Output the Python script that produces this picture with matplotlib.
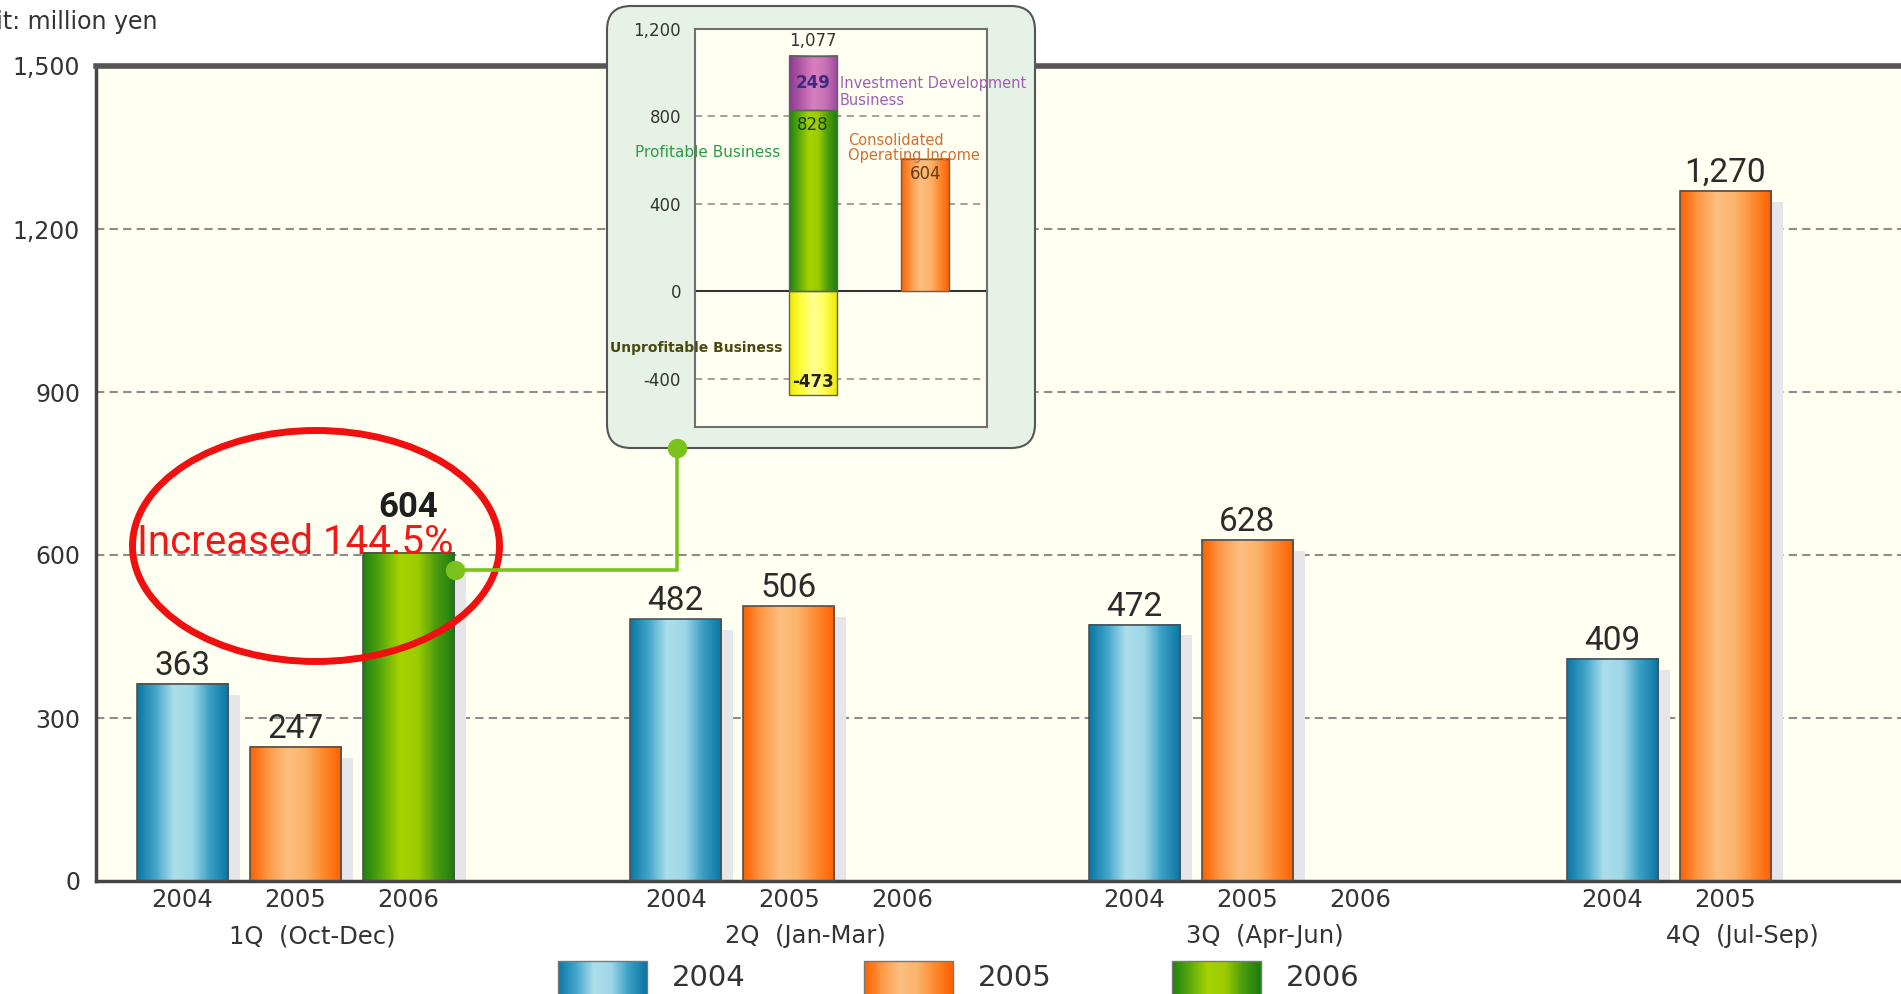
import matplotlib
matplotlib.use('Agg')
import matplotlib.pyplot as plt
import numpy as np
from matplotlib.colors import LinearSegmentedColormap
from matplotlib.patches import Ellipse, FancyBboxPatch
from matplotlib.transforms import blended_transform_factory
from matplotlib import font_manager

# ---- data ----
quarters = ['1Q  (Oct-Dec)', '2Q  (Jan-Mar)', '3Q  (Apr-Jun)', '4Q  (Jul-Sep)']
years = ['2004', '2005', '2006']
income_2004 = [363, 482, 472, 409]
income_2005 = [247, 506, 628, 1270]
income_2006 = [604, None, None, None]
year_ticks = [['2004', '2005', '2006'], ['2004', '2005', '2006'],
              ['2004', '2005', '2006'], ['2004', '2005']]
y_ticks = [0, 300, 600, 900, 1200, 1500]

# breakdown of 1Q 2006 (inset)
profitable = 828
investment_dev = 249
unprofitable = -473
consolidated = 604
breakdown_total = 1077
inset_ticks = [-400, 0, 400, 800, 1200]
increase_text = 'Increased 144.5%'

# ---- layout ----
group_start = [0.765, 5.13, 9.19, 13.42]
bar_w = 0.81

grad = {
    '2004': ['#0b78a6', '#45a6cb', '#acdeeb', '#9fd7e7', '#3a9fc4', '#0a76a3'],
    '2005': ['#ff6200', '#fe9a48', '#fdbf80', '#fbb46c', '#fe8a30', '#ff6000'],
    '2006': ['#208210', '#5caa0c', '#a6d200', '#9ccc00', '#4c9c10', '#1c7e0e'],
    'purple': ['#8a3a90', '#b45aa8', '#d880c0', '#c872b4', '#9a48a0'],
    'yellow': ['#eeea00', '#ffff40', '#ffff96', '#ffff50', '#ebe600'],
}

names = {f.name for f in font_manager.fontManager.ttflist}
narrow = 'Liberation Sans Narrow' if 'Liberation Sans Narrow' in names else 'DejaVu Sans'

plt.rcParams['font.family'] = 'DejaVu Sans'


def paint(ax, bars, colors, z):
    cmap = LinearSegmentedColormap.from_list('g', colors)
    for b in bars:
        x0, y0, w, h = b.get_x(), b.get_y(), b.get_width(), b.get_height()
        ax.imshow(np.linspace(0, 1, 64).reshape(1, -1), cmap=cmap,
                  extent=(x0, x0 + w, y0, y0 + h), aspect='auto',
                  interpolation='bilinear', zorder=z)


fig = plt.figure(figsize=(19.01, 9.94), dpi=100)
ax = fig.add_axes([96 / 1901, 1 - 881 / 994, 1 - 96 / 1901, (881 - 66) / 994])
ax.set_facecolor('#fffff2')

series = [income_2004, income_2005, income_2006]
for i, (yr, vals) in enumerate(zip(years, series)):
    xs = [group_start[q] + i for q in range(4) if vals[q] is not None]
    vs = [v for v in vals if v is not None]
    ax.bar([x + 0.1 for x in xs], [v - 20 for v in vs], width=bar_w,
           color='#e6e6ea', zorder=1)
    bars = ax.bar(xs, vs, width=bar_w, facecolor='none',
                  edgecolor='#505050', linewidth=1.2, zorder=3)
    paint(ax, bars, grad[yr], 2)
    for x, v in zip(xs, vs):
        if yr == '2006':
            ax.annotate(f'{v:,}', (x, v), xytext=(0, 26), textcoords='offset points',
                        ha='center', va='baseline', fontsize=25, fontweight='bold',
                        family='Roboto', color='#1e1e1e', zorder=6)
        else:
            ax.annotate(f'{v:,}', (x, v), xytext=(0, 6.5), textcoords='offset points',
                        ha='center', va='baseline', fontsize=24, family='Roboto',
                        color='#2b2b2b', zorder=6)

tick_pos, tick_lab = [], []
for q in range(4):
    for i, lab in enumerate(year_ticks[q]):
        tick_pos.append(group_start[q] + i)
        tick_lab.append(lab)
ax.set_xticks(tick_pos)
ax.set_xticklabels(tick_lab, fontsize=17.5, color='#333333')
ax.set_yticks(y_ticks)
ax.set_yticklabels([f'{v:,}' for v in y_ticks], fontsize=17, color='#333333')
ax.tick_params(length=0)
ax.tick_params(axis='x', pad=5)
ax.tick_params(axis='y', pad=11.5)

trans = blended_transform_factory(ax.transData, ax.transAxes)
for q, name in enumerate(quarters):
    ax.text(group_start[q] + 1.15, -0.0675, name, transform=trans, ha='center',
            va='center', fontsize=17.5, color='#333333')

for v in y_ticks[1:-1]:
    ax.axhline(v, color='#8c8c8c', linewidth=1.5, linestyle=(0, (4, 2.5)), zorder=0.5)

ax.spines['right'].set_visible(False)
ax.spines['top'].set_linewidth(4)
ax.spines['top'].set_color('#555555')
for s in ['left', 'bottom']:
    ax.spines[s].set_linewidth(2.5)
    ax.spines[s].set_color('#444444')
ax.set_xlim(0, 1805 / 113)
ax.set_ylim(0, 1500)

# ---- overlay in figure pixels ----
ov = fig.add_axes([0, 0, 1, 1], zorder=5)
ov.set_facecolor('none')
ov.axis('off')

ov.text(157, 22, 'Unit: million yen', ha='right', va='center', fontsize=17,
        color='#333333')

ov.add_patch(Ellipse((316, 546), 367, 231, fill=False, edgecolor='#f01010',
                     linewidth=5, zorder=3))
ov.text(137, 542, increase_text, ha='left', va='center', fontsize=29,
        family='Roboto', color='#f01818', zorder=4)

ov.plot([455, 677, 677], [570, 570, 448], color='#7cc21c', linewidth=2.6, zorder=5)
ov.plot([455, 677], [570, 448], 'o', color='#7cc21c', markersize=13, zorder=7)

ov.add_patch(FancyBboxPatch((607, 6), 428, 442,
                            boxstyle='round,pad=0,rounding_size=24',
                            facecolor='#e7f2e6', edgecolor='#555555',
                            linewidth=1.5, zorder=6))

# legend
leg_x = [558, 864, 1172]
for yr, lx in zip(years, leg_x):
    cmap = LinearSegmentedColormap.from_list('l', grad[yr])
    ov.imshow(np.linspace(0, 1, 64).reshape(1, -1), cmap=cmap,
              extent=(lx, lx + 89, 998, 961), aspect='auto',
              interpolation='bilinear', zorder=2)
    ov.plot([lx, lx + 89, lx + 89, lx, lx], [998, 998, 961, 961, 998],
            color='#777777', linewidth=1, zorder=2.5)
    ov.text(lx + 114, 978, yr, ha='left', va='center',
            fontsize=27 if narrow != 'DejaVu Sans' else 21,
            family=narrow, color='#333333')

ov.set_xlim(0, 1901)
ov.set_ylim(994, 0)

# ---- inset: breakdown of consolidated operating income ----
ins = fig.add_axes([695 / 1901, 1 - 427 / 994, 292 / 1901, 398 / 994], zorder=10)
ins.set_facecolor('#fffff2')
for s in ins.spines.values():
    s.set_color('#707070')
    s.set_linewidth(1.5)

x_break, x_cons = 1.05, 2.05
w_in = 0.43
b1 = ins.bar([x_break], [profitable], width=w_in, facecolor='none',
             edgecolor='#606060', linewidth=1, zorder=3)
paint(ins, b1, grad['2006'], 2)
b2 = ins.bar([x_break], [investment_dev], bottom=[profitable], width=w_in,
             facecolor='none', edgecolor='#606060', linewidth=1, zorder=3)
paint(ins, b2, grad['purple'], 2)
b3 = ins.bar([x_break], [unprofitable], width=w_in, facecolor='none',
             edgecolor='#606060', linewidth=1, zorder=3)
paint(ins, b3, grad['yellow'], 2)
b4 = ins.bar([x_cons], [consolidated], width=w_in, facecolor='none',
             edgecolor='#606060', linewidth=1, zorder=3)
paint(ins, b4, grad['2005'], 2)

for v in inset_ticks:
    if v == 0:
        ins.axhline(0, color='#333333', linewidth=1.5, zorder=1.5)
    elif v != inset_ticks[-1]:
        ins.axhline(v, color='#9a9a9a', linewidth=1.3, linestyle=(0, (4, 3)), zorder=1)

ins.set_yticks(inset_ticks)
ins.set_yticklabels([f'{v:,}' for v in inset_ticks], fontsize=12, color='#333333')
ins.set_xticks([])
ins.tick_params(length=0, pad=10)

ins.annotate(f'{breakdown_total:,}', (x_break, breakdown_total), xytext=(0, 4),
             textcoords='offset points', ha='center', va='bottom', fontsize=12,
             color='#333333', zorder=6)
ins.text(x_break, profitable + investment_dev / 2, str(investment_dev), ha='center',
         va='center', fontsize=12, fontweight='bold', color='#3a2a80', zorder=6)
ins.annotate(str(profitable), (x_break, profitable), xytext=(0, -4),
             textcoords='offset points', ha='center', va='top', fontsize=12,
             color='#1d3d00', zorder=6)
ins.annotate(str(unprofitable), (x_break, unprofitable), xytext=(0, 3),
             textcoords='offset points', ha='center', va='bottom', fontsize=12,
             fontweight='bold', color='#222222', zorder=6)
ins.annotate(str(consolidated), (x_cons, consolidated), xytext=(0, -4),
             textcoords='offset points', ha='center', va='top', fontsize=12,
             color='#6a3a10', zorder=6)

ins.text(1.29, 912, 'Investment Development\nBusiness', ha='left', va='center',
         fontsize=10.5, color='#a060b0', linespacing=1.1, clip_on=False, zorder=6)
ins.text(0.757, 633, 'Profitable Business', ha='right', va='center',
         fontsize=11, color='#2e9a46', clip_on=False, zorder=6)
ins.text(1.36, 658, 'Consolidated\nOperating Income', ha='left', va='center',
         fontsize=10.5, color='#d07030', linespacing=1.0, clip_on=False, zorder=6)
ins.text(0.775, -259, 'Unprofitable Business', ha='right', va='center',
         fontsize=10, fontweight='bold', color='#4a4a10', clip_on=False, zorder=6)

ins.set_xlim(0, 2.6)
ins.set_ylim(-620, 1200)

fig.savefig('out.png', dpi=100, facecolor='white')
